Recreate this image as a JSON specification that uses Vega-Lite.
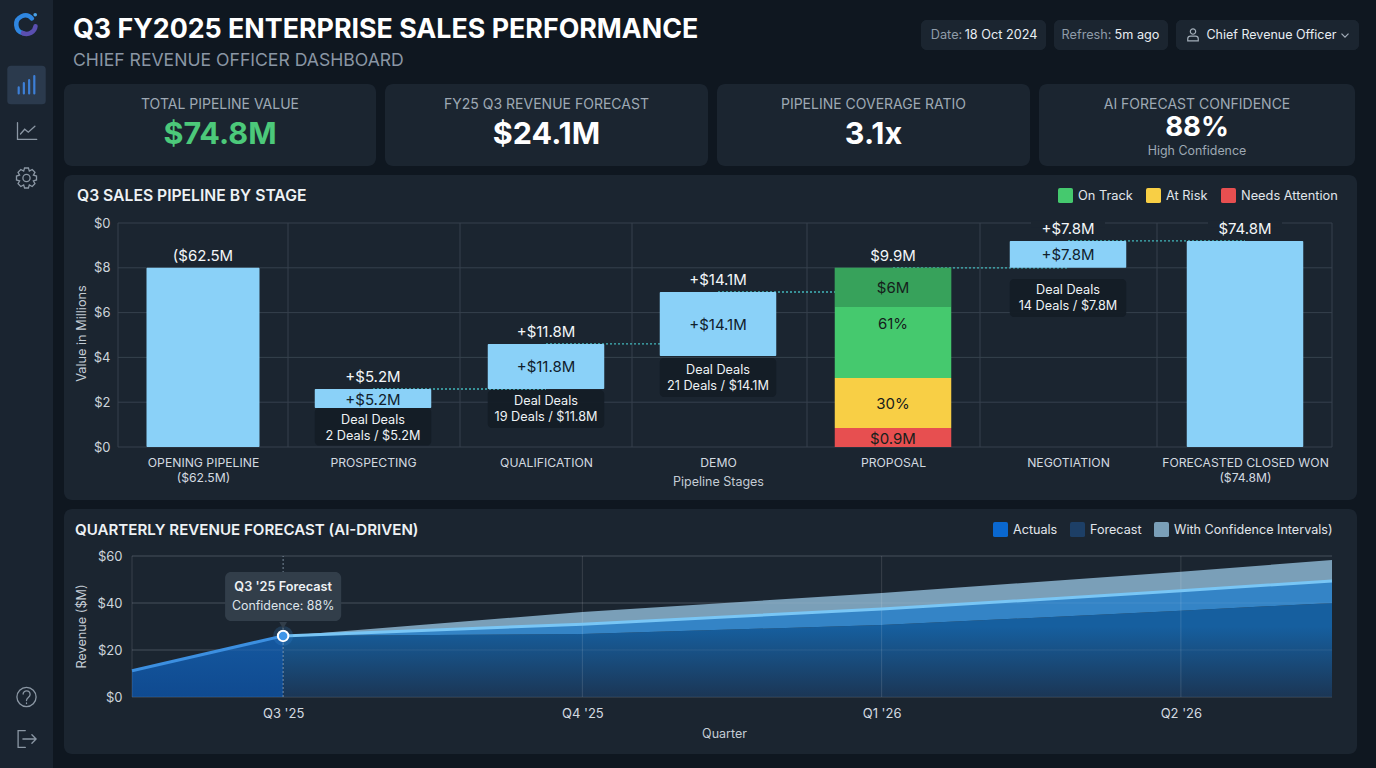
{"$schema":"https://vega.github.io/schema/vega-lite/v6.json","background":"#0f1720","padding":{"left":0,"top":0,"right":17,"bottom":14},"config":{"font":"Inter","view":{"stroke":null},"text":{"baseline":"middle"},"title":{"font":"Inter"},"axis":{"labelFont":"Inter","titleFont":"Inter"},"legend":{"labelFont":"Inter"}},"datasets":{"stages":[{"idx":1,"stage":"OPENING PIPELINE","low":0,"high":8,"top":"($62.5M"},{"idx":2,"stage":"PROSPECTING","low":1.74,"high":2.59,"top":"+$5.2M","inner":"+$5.2M","mid":2.16,"boxLow":0.07,"boxHigh":1.74,"boxMid":0.85,"deal":"Deal Deals\n2 Deals / $5.2M"},{"idx":3,"stage":"QUALIFICATION","low":2.59,"high":4.6,"top":"+$11.8M","inner":"+$11.8M","mid":3.6,"boxLow":0.85,"boxHigh":2.54,"boxMid":1.7,"deal":"Deal Deals\n19 Deals / $11.8M"},{"idx":4,"stage":"DEMO","low":4.06,"high":6.92,"top":"+$14.1M","inner":"+$14.1M","mid":5.49,"boxLow":2.23,"boxHigh":3.97,"boxMid":3.08,"deal":"Deal Deals\n21 Deals / $14.1M"},{"idx":6,"stage":"NEGOTIATION","low":8,"high":9.2,"top":"+$7.8M","inner":"+$7.8M","mid":8.6,"boxLow":5.8,"boxHigh":7.5,"boxMid":6.65,"deal":"Deal Deals\n14 Deals / $7.8M"},{"idx":7,"stage":"FORECASTED CLOSED WON","low":0,"high":9.2,"top":"$74.8M"}],"segments":[{"idx":5,"status":"Needs Attention","low":0,"high":0.85,"mid":0.4,"inner":"$0.9M"},{"idx":5,"status":"At Risk","low":0.85,"high":3.08,"mid":1.96,"inner":"30%"},{"idx":5,"status":"On Track","low":3.08,"high":8,"mid":5.54,"inner":"61%"}],"shade":[{"idx":5,"low":6.25,"high":8,"mid":7.14,"inner":"$6M"}],"totals":[{"idx":5,"high":8,"top":"$9.9M"}],"levels":[{"v":0,"from":0.5,"to":7.5},{"v":2,"from":0.5,"to":7.5},{"v":4,"from":0.5,"to":7.5},{"v":6,"from":0.5,"to":7.5},{"v":8,"from":0.5,"to":7.5},{"v":10,"from":0.5,"to":7.5}],"bounds":[{"b":0.5},{"b":1.5},{"b":2.5},{"b":3.5},{"b":4.5},{"b":5.5},{"b":6.5},{"b":7.5}],"links":[{"from":2,"to":3,"level":2.59},{"from":3,"to":4,"level":4.6},{"from":4,"to":5,"level":6.92},{"from":5,"to":6,"level":8},{"from":6,"to":7,"level":9.2}],"gaps":[{"idx":6,"low":9.8,"high":10.1},{"idx":7,"low":9.8,"high":10.1}],"series":[{"t":0,"mid":26,"lower":26,"upper":26,"band":"With Confidence Intervals)"},{"t":1,"mid":31,"lower":26.8,"upper":36.2,"band":"With Confidence Intervals)"},{"t":2,"mid":37.4,"lower":30.6,"upper":44.3,"band":"With Confidence Intervals)"},{"t":3,"mid":45.2,"lower":36.7,"upper":53.3,"band":"With Confidence Intervals)"},{"t":3.505,"mid":49.4,"lower":40,"upper":58.3,"band":"With Confidence Intervals)"}],"actual":[{"t":-0.505,"rev":11.2},{"t":0,"rev":26}],"gridY":[{"v":0,"from":-0.505,"to":3.505},{"v":20,"from":-0.505,"to":3.505},{"v":40,"from":-0.505,"to":3.505},{"v":60,"from":-0.505,"to":3.505}],"gridX":[{"q":-0.505},{"q":1},{"q":2},{"q":3}],"focus":[{"t":0,"rev":26}],"note":[{"t":0,"y0":32.3,"y1":53.2,"head":"Q3 '25 Forecast","conf":"Confidence: 88%","yh":46.8,"yc":38.7,"tip":30.5}]},"resolve":{"scale":{"color":"independent","shape":"independent","stroke":"independent","strokeWidth":"independent"},"legend":{"color":"independent"}},"spacing":11,"hconcat":[{"width":53,"height":768,"view":{"fill":"#1a2430"},"data":{"values":[{"slot":2,"icon":"bars"},{"slot":3,"icon":"line"},{"slot":4,"icon":"gear"},{"slot":5,"icon":"help"},{"slot":6,"icon":"logout"},{"slot":1,"icon":"logoA"},{"slot":1,"icon":"logoB"},{"slot":1,"icon":"logoC"}]},"layer":[{"transform":[{"filter":"datum.icon=='bars'"}],"mark":{"type":"point","filled":true,"shape":"M-.8 -1H.8Q1 -1 1 -.8V.8Q1 1 .8 1H-.8Q-1 1 -1 .8V-.8Q-1 -1 -.8 -1Z","size":1480,"color":"#2b3a4d","opacity":1},"encoding":{"y":{"field":"slot","type":"quantitative","scale":{"domain":[1,2,3,4,5,6],"range":[25,85,131,178,697,739],"nice":false,"zero":false},"axis":null}}},{"mark":{"type":"point","filled":false,"size":576,"opacity":1,"strokeCap":"round"},"encoding":{"y":{"field":"slot","type":"quantitative","scale":{"domain":[1,2,3,4,5,6],"range":[25,85,131,178,697,739],"nice":false,"zero":false},"axis":null},"shape":{"field":"icon","type":"nominal","legend":null,"scale":{"domain":["bars","line","gear","help","logout","logoA","logoB","logoC"],"range":["M-.65 .7V.2M-.22 .7V-.15M.22 .7V-.4M.65 .7V-.75","M-.75 -.7V.7H.85M-.5 .25L-.15 -.15L.15 .1L.7 -.4","M.834 -.162L.834 .162L.573 .237L.705 .475L.475 .705L.237 .573L.162 .834L-.162 .834L-.237 .573L-.475 .705L-.705 .475L-.573 .237L-.834 .162L-.834 -.162L-.573 -.237L-.705 -.475L-.475 -.705L-.237 -.573L-.162 -.834L.162 -.834L.237 -.573L.475 -.705L.705 -.475L.573 -.237ZM.3 0A.3 .3 0 1 1 -.3 0A.3 .3 0 1 1 .3 0","M.8 0A.8 .8 0 1 1 -.8 0A.8 .8 0 1 1 .8 0M-.28 -.25C-.28 -.6 .3 -.6 .3 -.2C.3 .05 0 .05 0 .3M0 .5V.55","M-.1 -.7H-.7V.7H-.1M-.3 0H.8M.45 -.35L.8 0L.45 .35","M.45 -.55A.75 .75 0 1 0 -.3 .68","M-.3 .68A.75 .75 0 0 0 .75 .1","M.72 -.85L.73 -.85"]}},"stroke":{"field":"icon","type":"nominal","legend":null,"scale":{"domain":["bars","line","gear","help","logout","logoA","logoB","logoC"],"range":["#3d7fd6","#8b97a4","#8b97a4","#8b97a4","#8b97a4","#2f86e0","#5a4fb0","#4aa3e8"]}},"strokeWidth":{"field":"icon","type":"nominal","legend":null,"scale":{"type":"ordinal","domain":["bars","line","gear","help","logout","logoA","logoB","logoC"],"range":[2.2,1.3,1.3,1.3,1.3,4.5,4.5,3.5]}}}}]},{"spacing":9,"resolve":{"scale":{"color":"independent","shape":"independent"},"legend":{"color":"independent"}},"vconcat":[{"spacing":8,"bounds":"flush","resolve":{"scale":{"color":"independent","shape":"independent"}},"hconcat":[{"width":849,"height":75,"title":{"text":"Q3 FY2025 ENTERPRISE SALES PERFORMANCE","subtitle":"CHIEF REVENUE OFFICER DASHBOARD","anchor":"start","frame":"group","dx":9,"offset":-70,"fontSize":26.8,"fontWeight":700,"color":"#ffffff","subtitleFont":"Inter","subtitleFontSize":17.6,"subtitleColor":"#8a96a4","subtitleFontWeight":400,"subtitlePadding":9},"data":{"values":[{"k":"header"}]},"mark":{"type":"rect","opacity":0}},{"width":125,"height":75,"data":{"values":[{"slot":"chip","part":"label","txt":"Date:"},{"slot":"chip","part":"value","txt":"18 Oct 2024"}]},"layer":[{"mark":{"type":"rect","fill":"#1b2530","cornerRadius":6},"encoding":{"y":{"field":"slot","type":"nominal","scale":{"type":"band","domain":["chip"],"range":[20,50]},"axis":null}}},{"mark":{"type":"text","fontSize":12.7},"encoding":{"y":{"field":"slot","type":"nominal","scale":{"type":"band","domain":["chip"],"range":[20,50]},"axis":null},"x":{"field":"part","type":"nominal","axis":null,"scale":{"type":"point","padding":0,"domain":["label","value"],"range":[25.5,80]}},"text":{"field":"txt"},"color":{"field":"part","type":"nominal","legend":null,"scale":{"domain":["label","value"],"range":["#8f9ba8","#e8edf2"]}}}}]},{"width":114,"height":75,"data":{"values":[{"slot":"chip","part":"label","txt":"Refresh:"},{"slot":"chip","part":"value","txt":"5m ago"}]},"layer":[{"mark":{"type":"rect","fill":"#1b2530","cornerRadius":6},"encoding":{"y":{"field":"slot","type":"nominal","scale":{"type":"band","domain":["chip"],"range":[20,50]},"axis":null}}},{"mark":{"type":"text","fontSize":12.7},"encoding":{"y":{"field":"slot","type":"nominal","scale":{"type":"band","domain":["chip"],"range":[20,50]},"axis":null},"x":{"field":"part","type":"nominal","axis":null,"scale":{"type":"point","padding":0,"domain":["label","value"],"range":[32.5,83]}},"text":{"field":"txt"},"color":{"field":"part","type":"nominal","legend":null,"scale":{"domain":["label","value"],"range":["#8f9ba8","#e8edf2"]}}}}]},{"width":183,"height":75,"data":{"values":[{"slot":"chip","part":"icon","kind":"user"},{"slot":"chip","part":"value","txt":"Chief Revenue Officer"},{"slot":"chip","part":"caret","kind":"caret"}]},"layer":[{"mark":{"type":"rect","fill":"#1b2530","cornerRadius":6},"encoding":{"y":{"field":"slot","type":"nominal","scale":{"type":"band","domain":["chip"],"range":[20,50]},"axis":null}}},{"transform":[{"filter":"datum.part=='value'"}],"mark":{"type":"text","fontSize":12.5,"color":"#e8edf2","dx":2.5},"encoding":{"y":{"field":"slot","type":"nominal","scale":{"type":"band","domain":["chip"],"range":[20,50]},"axis":null},"x":{"field":"part","type":"nominal","axis":null,"scale":{"type":"point","padding":0,"domain":["icon","value","caret"],"range":[17,169]}},"text":{"field":"txt"}}},{"transform":[{"filter":"datum.part!='value'"}],"mark":{"type":"point","filled":false,"size":196,"opacity":1,"stroke":"#a3aeb9","strokeWidth":1.2},"encoding":{"y":{"field":"slot","type":"nominal","scale":{"type":"band","domain":["chip"],"range":[20,50]},"axis":null},"x":{"field":"part","type":"nominal","axis":null,"scale":{"type":"point","padding":0,"domain":["icon","value","caret"],"range":[17,169]}},"shape":{"field":"kind","type":"nominal","legend":null,"scale":{"domain":["user","caret"],"range":["M.38 -.5A.38 .38 0 1 1 -.38 -.5A.38 .38 0 1 1 .38 -.5M-.75 .85V.55Q-.75 .15 -.35 .15H.35Q.75 .15 .75 .55V.85Z","M-.5 -.2L0 .3L.5 -.2"]}}}}]}]},{"spacing":9,"bounds":"flush","hconcat":[{"width":312,"height":82,"view":{"fill":"#1b2530","cornerRadius":8},"data":{"values":[{"metric":"TOTAL PIPELINE VALUE","value":"$74.8M"}]},"layer":[{"mark":{"type":"text","fontSize":14,"color":"#9ea9b4","dy":-20},"encoding":{"text":{"field":"metric"}}},{"mark":{"type":"text","fontSize":30.5,"fontWeight":700,"color":"#4cc97a","dy":10},"encoding":{"text":{"field":"value"}}}]},{"width":323,"height":82,"view":{"fill":"#1b2530","cornerRadius":8},"data":{"values":[{"metric":"FY25 Q3 REVENUE FORECAST","value":"$24.1M"}]},"layer":[{"mark":{"type":"text","fontSize":14,"color":"#9ea9b4","dy":-20},"encoding":{"text":{"field":"metric"}}},{"mark":{"type":"text","fontSize":30.5,"fontWeight":700,"color":"#ffffff","dy":10},"encoding":{"text":{"field":"value"}}}]},{"width":313,"height":82,"view":{"fill":"#1b2530","cornerRadius":8},"data":{"values":[{"metric":"PIPELINE COVERAGE RATIO","value":"3.1x"}]},"layer":[{"mark":{"type":"text","fontSize":14,"color":"#9ea9b4","dy":-20},"encoding":{"text":{"field":"metric"}}},{"mark":{"type":"text","fontSize":30.5,"fontWeight":700,"color":"#ffffff","dy":10},"encoding":{"text":{"field":"value"}}}]},{"width":316,"height":82,"view":{"fill":"#1b2530","cornerRadius":8},"data":{"values":[{"metric":"AI FORECAST CONFIDENCE","value":"88%","note":"High Confidence"}]},"layer":[{"mark":{"type":"text","fontSize":14,"color":"#9ea9b4","dy":-20},"encoding":{"text":{"field":"metric"}}},{"mark":{"type":"text","fontSize":27.5,"fontWeight":700,"color":"#ffffff","dy":3},"encoding":{"text":{"field":"value"}}},{"mark":{"type":"text","fontSize":12.4,"color":"#9ea9b4","dy":26},"encoding":{"text":{"field":"note"}}}]}]},{"width":1293,"height":325,"view":{"fill":"#1b2530","cornerRadius":8},"title":{"text":"Q3 SALES PIPELINE BY STAGE","anchor":"start","frame":"group","dx":13,"offset":-30,"fontSize":15.7,"fontWeight":600,"color":"#eef2f5"},"encoding":{"x":{"field":"idx","type":"quantitative","scale":{"padding":0,"domain":[0.5,1,1.5,2,2.5,3,3.5,4,4.5,5,5.5,6,6.5,7,7.5],"range":[54,139,224,309,396,482,568,654,743,829,916,1004,1093,1181,1268],"nice":false,"zero":false}}},"layer":[{"data":{"name":"levels"},"mark":{"type":"rule","color":"#36414d","strokeWidth":1},"encoding":{"y":{"field":"v","type":"quantitative","scale":{"domain":[0,10],"range":[272,48],"nice":false,"zero":false},"axis":{"values":[0,2,4,6,8,10],"labelExpr":"datum.value==10?'$0':'$'+datum.value","offset":-54,"grid":false,"ticks":false,"domain":false,"labelPadding":8,"labelFontSize":13,"labelColor":"#cdd5dc","title":"Value in Millions","titleFontSize":12.7,"titleFontWeight":400,"titleColor":"#c4ccd4","titleX":-30,"titleY":158}},"x":{"field":"from","type":"quantitative","scale":{"padding":0,"domain":[0.5,1,1.5,2,2.5,3,3.5,4,4.5,5,5.5,6,6.5,7,7.5],"range":[54,139,224,309,396,482,568,654,743,829,916,1004,1093,1181,1268],"nice":false,"zero":false},"axis":{"values":[1,2,3,4,5,6,7],"labelExpr":"datum.value==1?['OPENING PIPELINE','($62.5M)']:datum.value==2?'PROSPECTING':datum.value==3?'QUALIFICATION':datum.value==4?'DEMO':datum.value==5?'PROPOSAL':datum.value==6?'NEGOTIATION':['FORECASTED CLOSED WON','($74.8M)']","offset":-53,"grid":false,"ticks":false,"domain":false,"labelPadding":9,"labelFontSize":12.2,"labelColor":"#d3dae0","labelOverlap":false,"labelLineHeight":15,"title":"Pipeline Stages","titleFontSize":12.5,"titleFontWeight":400,"titleColor":"#c4ccd4","titleX":654,"titleY":34,"titleBaseline":"middle"}},"x2":{"field":"to"}}},{"data":{"name":"bounds"},"mark":{"type":"rule","color":"#36414d","strokeWidth":1},"encoding":{"x":{"field":"b","type":"quantitative","scale":{"padding":0,"domain":[0.5,1,1.5,2,2.5,3,3.5,4,4.5,5,5.5,6,6.5,7,7.5],"range":[54,139,224,309,396,482,568,654,743,829,916,1004,1093,1181,1268],"nice":false,"zero":false}},"y":{"datum":0,"type":"quantitative","scale":{"domain":[0,10],"range":[272,48],"nice":false,"zero":false}},"y2":{"datum":10}}},{"data":{"name":"links"},"mark":{"type":"rule","color":"#43b7bb","strokeWidth":1.3,"strokeDash":[2,2]},"encoding":{"x":{"field":"from","type":"quantitative","scale":{"padding":0,"domain":[0.5,1,1.5,2,2.5,3,3.5,4,4.5,5,5.5,6,6.5,7,7.5],"range":[54,139,224,309,396,482,568,654,743,829,916,1004,1093,1181,1268],"nice":false,"zero":false}},"x2":{"field":"to"},"y":{"field":"level","type":"quantitative","scale":{"domain":[0,10],"range":[272,48],"nice":false,"zero":false}}}},{"data":{"name":"stages"},"transform":[{"filter":"datum.idx==1"}],"mark":{"type":"bar","width":113,"color":"#8ad1f8","cornerRadius":1},"encoding":{"y":{"field":"high","type":"quantitative","scale":{"domain":[0,10],"range":[272,48],"nice":false,"zero":false}},"y2":{"field":"low"}}},{"data":{"name":"stages"},"transform":[{"filter":"datum.idx!=1"}],"mark":{"type":"bar","width":116.5,"color":"#8ad1f8","cornerRadius":1},"encoding":{"y":{"field":"high","type":"quantitative","scale":{"domain":[0,10],"range":[272,48],"nice":false,"zero":false}},"y2":{"field":"low"}}},{"data":{"name":"segments"},"mark":{"type":"bar","width":116.5},"encoding":{"y":{"field":"high","type":"quantitative","scale":{"domain":[0,10],"range":[272,48],"nice":false,"zero":false}},"y2":{"field":"low"},"color":{"field":"status","type":"nominal","scale":{"domain":["On Track","At Risk","Needs Attention"],"range":["#45c96e","#f8cf45","#e74f50"]},"legend":{"title":null,"orient":"none","legendX":994,"legendY":13,"direction":"horizontal","symbolType":"M-.75 -1H.75Q1 -1 1 -.75V.75Q1 1 .75 1H-.75Q-1 1 -1 .75V-.75Q-1 -1 -.75 -1Z","symbolSize":225,"symbolStrokeWidth":0,"symbolOpacity":1,"labelFontSize":12.8,"labelColor":"#e1e6eb","columnPadding":13,"labelOffset":5}}}},{"data":{"name":"shade"},"mark":{"type":"bar","width":116.5,"color":"#1c5a3a","opacity":0.35},"encoding":{"y":{"field":"high","type":"quantitative","scale":{"domain":[0,10],"range":[272,48],"nice":false,"zero":false}},"y2":{"field":"low"}}},{"data":{"name":"stages"},"transform":[{"filter":"isValid(datum.deal)"}],"mark":{"type":"bar","width":116.5,"color":"#141c26","opacity":0.95,"cornerRadius":4},"encoding":{"y":{"field":"boxHigh","type":"quantitative","scale":{"domain":[0,10],"range":[272,48],"nice":false,"zero":false}},"y2":{"field":"boxLow"}}},{"data":{"name":"gaps"},"mark":{"type":"bar","width":74,"color":"#1b2530"},"encoding":{"y":{"field":"high","type":"quantitative","scale":{"domain":[0,10],"range":[272,48],"nice":false,"zero":false}},"y2":{"field":"low"}}},{"data":{"name":"stages"},"mark":{"type":"text","fontSize":15,"color":"#f3f6f8","dy":-12},"encoding":{"y":{"field":"high","type":"quantitative","scale":{"domain":[0,10],"range":[272,48],"nice":false,"zero":false}},"text":{"field":"top"}}},{"data":{"name":"totals"},"mark":{"type":"text","fontSize":15,"color":"#f3f6f8","dy":-12},"encoding":{"y":{"field":"high","type":"quantitative","scale":{"domain":[0,10],"range":[272,48],"nice":false,"zero":false}},"text":{"field":"top"}}},{"data":{"name":"stages"},"transform":[{"filter":"isValid(datum.inner)"}],"mark":{"type":"text","fontSize":15,"color":"#10202c","dy":1},"encoding":{"y":{"field":"mid","type":"quantitative","scale":{"domain":[0,10],"range":[272,48],"nice":false,"zero":false}},"text":{"field":"inner"}}},{"data":{"name":"segments"},"mark":{"type":"text","fontSize":15,"color":"#15201c","dy":1},"encoding":{"y":{"field":"mid","type":"quantitative","scale":{"domain":[0,10],"range":[272,48],"nice":false,"zero":false}},"text":{"field":"inner"}}},{"data":{"name":"shade"},"mark":{"type":"text","fontSize":15,"color":"#15201c","dy":1},"encoding":{"y":{"field":"mid","type":"quantitative","scale":{"domain":[0,10],"range":[272,48],"nice":false,"zero":false}},"text":{"field":"inner"}}},{"data":{"name":"stages"},"transform":[{"filter":"isValid(datum.deal)"}],"mark":{"type":"text","fontSize":12.7,"color":"#eef2f5","lineBreak":"\n","lineHeight":16,"dy":-8},"encoding":{"y":{"field":"boxMid","type":"quantitative","scale":{"domain":[0,10],"range":[272,48],"nice":false,"zero":false}},"text":{"field":"deal"}}}]},{"width":1293,"height":245,"view":{"fill":"#1b2530","cornerRadius":8},"title":{"text":"QUARTERLY REVENUE FORECAST (AI-DRIVEN)","anchor":"start","frame":"group","dx":11,"offset":-29,"fontSize":15.1,"fontWeight":600,"color":"#eef2f5"},"layer":[{"data":{"name":"gridY"},"mark":{"type":"rule","color":"#36414d"},"encoding":{"y":{"field":"v","type":"quantitative","scale":{"domain":[0,60],"range":[188,47],"nice":false,"zero":false},"axis":{"values":[0,20,40,60],"labelExpr":"'$'+datum.value","offset":-68,"grid":false,"ticks":false,"domain":false,"labelPadding":10,"labelFontSize":13,"labelColor":"#cdd5dc","title":"Revenue ($M)","titleFontSize":12.7,"titleFontWeight":400,"titleColor":"#c4ccd4","titleX":-44,"titleY":117}},"x":{"field":"from","type":"quantitative","scale":{"domain":[-0.505,3.505],"range":[68,1268],"nice":false,"zero":false},"axis":{"values":[0,1,2,3],"labelExpr":"['Q3 \\'25','Q4 \\'25','Q1 \\'26','Q2 \\'26'][datum.value]","offset":-57,"grid":false,"ticks":false,"domain":false,"labelPadding":10,"labelFontSize":13,"labelColor":"#d3dae0","title":"Quarter","titleFontSize":12.5,"titleFontWeight":400,"titleColor":"#c4ccd4","titleX":660,"titleY":36,"titleBaseline":"middle"}},"x2":{"field":"to"}}},{"data":{"name":"actual"},"mark":{"type":"area","color":{"x1":0,"y1":0,"x2":0,"y2":1,"gradient":"linear","stops":[{"offset":0,"color":"#15589f"},{"offset":1,"color":"#0f4a90"}]}},"encoding":{"x":{"field":"t","type":"quantitative","scale":{"domain":[-0.505,3.505],"range":[68,1268],"nice":false,"zero":false}},"y":{"field":"rev","type":"quantitative","scale":{"domain":[0,60],"range":[188,47],"nice":false,"zero":false}}}},{"data":{"name":"series"},"mark":{"type":"area","color":{"x1":0,"y1":0,"x2":0,"y2":1,"gradient":"linear","stops":[{"offset":0,"color":"#165f9f"},{"offset":0.25,"color":"#165f9f"},{"offset":1,"color":"#1b3655"}]}},"encoding":{"x":{"field":"t","type":"quantitative","scale":{"domain":[-0.505,3.505],"range":[68,1268],"nice":false,"zero":false}},"y":{"field":"lower","type":"quantitative","scale":{"domain":[0,60],"range":[188,47],"nice":false,"zero":false}}}},{"data":{"name":"series"},"mark":{"type":"area","color":"#3484c6"},"encoding":{"x":{"field":"t","type":"quantitative","scale":{"domain":[-0.505,3.505],"range":[68,1268],"nice":false,"zero":false}},"y":{"field":"mid","type":"quantitative","scale":{"domain":[0,60],"range":[188,47],"nice":false,"zero":false}},"y2":{"field":"lower"}}},{"data":{"name":"series"},"mark":{"type":"area","opacity":1},"encoding":{"x":{"field":"t","type":"quantitative","scale":{"domain":[-0.505,3.505],"range":[68,1268],"nice":false,"zero":false}},"y":{"field":"upper","type":"quantitative","scale":{"domain":[0,60],"range":[188,47],"nice":false,"zero":false}},"y2":{"field":"mid"},"color":{"field":"band","type":"nominal","scale":{"domain":["Actuals","Forecast","With Confidence Intervals)"],"range":["#0a68d0","#1d3f66","#7a9fb8"]},"legend":{"title":null,"orient":"none","legendX":929,"legendY":13,"direction":"horizontal","symbolType":"M-.75 -1H.75Q1 -1 1 -.75V.75Q1 1 .75 1H-.75Q-1 1 -1 .75V-.75Q-1 -1 -.75 -1Z","symbolSize":225,"symbolStrokeWidth":0,"symbolOpacity":1,"labelFontSize":12.6,"labelColor":"#e1e6eb","columnPadding":12,"labelOffset":5,"labelLimit":260}}}},{"data":{"name":"gridX"},"mark":{"type":"rule","color":"#ffffff","opacity":0.13},"encoding":{"x":{"field":"q","type":"quantitative","scale":{"domain":[-0.505,3.505],"range":[68,1268],"nice":false,"zero":false}},"y":{"datum":0,"type":"quantitative","scale":{"domain":[0,60],"range":[188,47],"nice":false,"zero":false}},"y2":{"datum":60}}},{"data":{"name":"gridY"},"mark":{"type":"rule","color":"#ffffff","opacity":0.08},"encoding":{"x":{"field":"from","type":"quantitative","scale":{"domain":[-0.505,3.505],"range":[68,1268],"nice":false,"zero":false}},"x2":{"field":"to"},"y":{"field":"v","type":"quantitative","scale":{"domain":[0,60],"range":[188,47],"nice":false,"zero":false}}}},{"data":{"name":"focus"},"mark":{"type":"rule","color":"#9fb2c4","strokeDash":[2,2],"strokeWidth":1,"opacity":0.7},"encoding":{"x":{"field":"t","type":"quantitative","scale":{"domain":[-0.505,3.505],"range":[68,1268],"nice":false,"zero":false}},"y":{"datum":0,"type":"quantitative","scale":{"domain":[0,60],"range":[188,47],"nice":false,"zero":false}},"y2":{"datum":60}}},{"data":{"name":"series"},"mark":{"type":"line","color":"#79c6f5","strokeWidth":3},"encoding":{"x":{"field":"t","type":"quantitative","scale":{"domain":[-0.505,3.505],"range":[68,1268],"nice":false,"zero":false}},"y":{"field":"mid","type":"quantitative","scale":{"domain":[0,60],"range":[188,47],"nice":false,"zero":false}}}},{"data":{"name":"actual"},"mark":{"type":"line","color":"#3c8fe0","strokeWidth":3},"encoding":{"x":{"field":"t","type":"quantitative","scale":{"domain":[-0.505,3.505],"range":[68,1268],"nice":false,"zero":false}},"y":{"field":"rev","type":"quantitative","scale":{"domain":[0,60],"range":[188,47],"nice":false,"zero":false}}}},{"data":{"name":"focus"},"mark":{"type":"point","filled":true,"size":400,"color":"#3c8fe0","opacity":0.2},"encoding":{"x":{"field":"t","type":"quantitative","scale":{"domain":[-0.505,3.505],"range":[68,1268],"nice":false,"zero":false}},"y":{"field":"rev","type":"quantitative","scale":{"domain":[0,60],"range":[188,47],"nice":false,"zero":false}}}},{"data":{"name":"focus"},"mark":{"type":"point","filled":true,"size":110,"fill":"#3f96e8","stroke":"#ffffff","strokeWidth":2,"opacity":1},"encoding":{"x":{"field":"t","type":"quantitative","scale":{"domain":[-0.505,3.505],"range":[68,1268],"nice":false,"zero":false}},"y":{"field":"rev","type":"quantitative","scale":{"domain":[0,60],"range":[188,47],"nice":false,"zero":false}}}},{"data":{"name":"note"},"mark":{"type":"rect","color":"#323e4a","cornerRadius":6},"encoding":{"x":{"datum":-0.194,"type":"quantitative","scale":{"domain":[-0.505,3.505],"range":[68,1268],"nice":false,"zero":false}},"x2":{"datum":0.194},"y":{"field":"y0","type":"quantitative","scale":{"domain":[0,60],"range":[188,47],"nice":false,"zero":false}},"y2":{"field":"y1"}}},{"data":{"name":"note"},"mark":{"type":"point","shape":"triangle-down","filled":true,"size":60,"color":"#323e4a","opacity":1},"encoding":{"x":{"field":"t","type":"quantitative","scale":{"domain":[-0.505,3.505],"range":[68,1268],"nice":false,"zero":false}},"y":{"field":"tip","type":"quantitative","scale":{"domain":[0,60],"range":[188,47],"nice":false,"zero":false}}}},{"data":{"name":"note"},"mark":{"type":"text","fontSize":12.7,"fontWeight":600,"color":"#eef2f5"},"encoding":{"x":{"field":"t","type":"quantitative","scale":{"domain":[-0.505,3.505],"range":[68,1268],"nice":false,"zero":false}},"y":{"field":"yh","type":"quantitative","scale":{"domain":[0,60],"range":[188,47],"nice":false,"zero":false}},"text":{"field":"head"}}},{"data":{"name":"note"},"mark":{"type":"text","fontSize":12.4,"color":"#dfe5ea"},"encoding":{"x":{"field":"t","type":"quantitative","scale":{"domain":[-0.505,3.505],"range":[68,1268],"nice":false,"zero":false}},"y":{"field":"yc","type":"quantitative","scale":{"domain":[0,60],"range":[188,47],"nice":false,"zero":false}},"text":{"field":"conf"}}}]}]}]}
